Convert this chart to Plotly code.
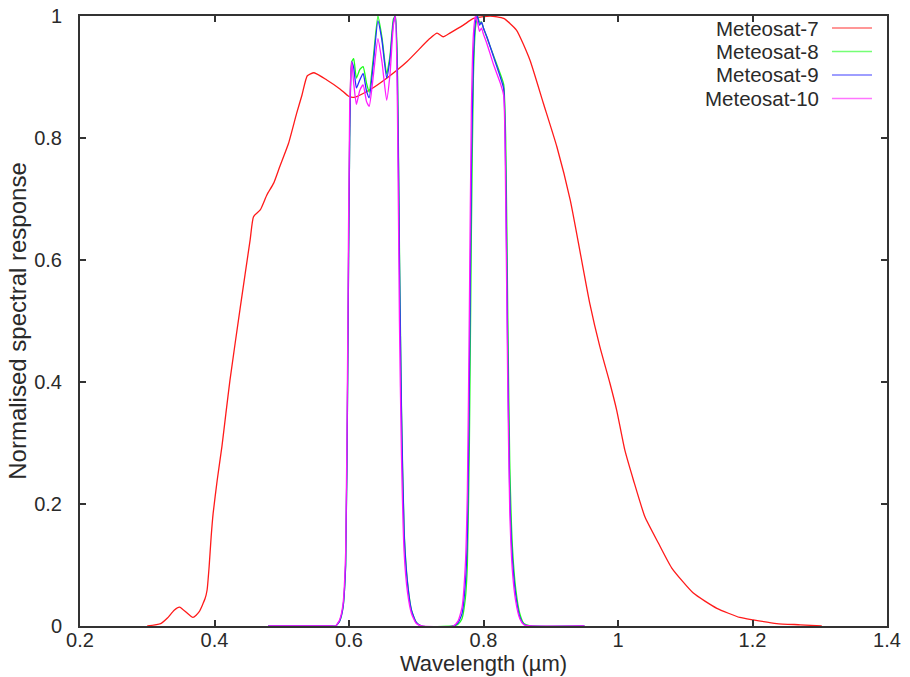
import plotly.graph_objects as go

# ---- data ----
series_names = ["Meteosat-7", "Meteosat-8", "Meteosat-9", "Meteosat-10"]
series_colors = ["#ff1a1a", "#1aff1a", "#2a2aff", "#ff1aff"]

wl_mvri = [0.300, 0.320, 0.330, 0.340, 0.348, 0.368, 0.377, 0.386, 0.389, 0.392,
           0.395, 0.398, 0.404, 0.411, 0.417, 0.423, 0.438, 0.453, 0.458, 0.468,
           0.478, 0.488, 0.497, 0.510, 0.522, 0.530, 0.538, 0.548, 0.567, 0.587,
           0.600, 0.609, 0.631, 0.656, 0.686, 0.720, 0.731, 0.740, 0.750, 0.770,
           0.785, 0.810, 0.830, 0.849, 0.869, 0.889, 0.909, 0.929, 0.944, 0.958,
           0.973, 0.988, 0.998, 1.010, 1.023, 1.040, 1.060, 1.080, 1.112, 1.147,
           1.181, 1.201, 1.236, 1.271, 1.303]
resp_met7 = [0.000, 0.004, 0.013, 0.026, 0.031, 0.014, 0.023, 0.045, 0.059, 0.097,
             0.146, 0.185, 0.239, 0.294, 0.349, 0.403, 0.520, 0.633, 0.671, 0.682,
             0.707, 0.726, 0.753, 0.791, 0.840, 0.870, 0.902, 0.907, 0.895, 0.880,
             0.868, 0.867, 0.879, 0.898, 0.925, 0.963, 0.972, 0.966, 0.972, 0.985,
             0.996, 1.000, 0.996, 0.977, 0.928, 0.857, 0.786, 0.698, 0.611, 0.529,
             0.458, 0.398, 0.354, 0.289, 0.239, 0.179, 0.136, 0.095, 0.054, 0.029,
             0.014, 0.010, 0.004, 0.002, 0.000]

wl_seviri = [0.480, 0.575, 0.580, 0.586, 0.591, 0.595, 0.598, 0.601, 0.604, 0.607,
             0.611, 0.616, 0.621, 0.626, 0.630, 0.636, 0.643, 0.649, 0.656, 0.661,
             0.666, 0.669, 0.672, 0.675, 0.678, 0.682, 0.687, 0.693, 0.700, 0.708,
             0.755, 0.762, 0.768, 0.773, 0.776, 0.779, 0.782, 0.785, 0.788, 0.791,
             0.794, 0.797, 0.800, 0.805, 0.815, 0.825, 0.830, 0.833, 0.836, 0.839,
             0.843, 0.848, 0.854, 0.860, 0.870, 0.950]
resp_met8 = [0.000, 0.000, 0.000, 0.008, 0.030, 0.100, 0.400, 0.800, 0.925, 0.930,
             0.898, 0.912, 0.917, 0.890, 0.875, 0.930, 1.000, 0.965, 0.905, 0.935,
             0.995, 1.000, 0.920, 0.620, 0.360, 0.155, 0.072, 0.026, 0.006, 0.000,
             0.000, 0.003, 0.012, 0.045, 0.100, 0.300, 0.650, 0.900, 0.980, 1.000,
             0.990, 0.990, 0.980, 0.965, 0.935, 0.905, 0.888, 0.800, 0.520, 0.270,
             0.130, 0.060, 0.020, 0.004, 0.000, 0.000]
resp_met9 = [0.000, 0.000, 0.000, 0.008, 0.030, 0.100, 0.400, 0.800, 0.925, 0.915,
             0.882, 0.895, 0.906, 0.877, 0.866, 0.920, 0.992, 0.960, 0.898, 0.930,
             0.990, 1.000, 0.900, 0.600, 0.350, 0.150, 0.070, 0.025, 0.006, 0.000,
             0.000, 0.005, 0.020, 0.070, 0.150, 0.400, 0.750, 0.930, 0.990, 1.000,
             0.985, 0.990, 0.980, 0.966, 0.933, 0.900, 0.881, 0.750, 0.450, 0.220,
             0.110, 0.050, 0.015, 0.003, 0.000, 0.000]
resp_met10 = [0.000, 0.000, 0.000, 0.010, 0.035, 0.120, 0.450, 0.850, 0.925, 0.890,
              0.855, 0.878, 0.887, 0.860, 0.852, 0.900, 0.963, 0.925, 0.862, 0.905,
              0.985, 1.000, 0.850, 0.500, 0.280, 0.120, 0.055, 0.020, 0.004, 0.000,
              0.000, 0.008, 0.030, 0.100, 0.220, 0.520, 0.850, 0.970, 1.000, 0.990,
              0.975, 0.980, 0.970, 0.955, 0.920, 0.890, 0.870, 0.700, 0.400, 0.190,
              0.090, 0.040, 0.012, 0.002, 0.000, 0.000]

x_tick_vals = [0.2, 0.4, 0.6, 0.8, 1.0, 1.2, 1.4]
x_tick_text = ["0.2", "0.4", "0.6", "0.8", "1", "1.2", "1.4"]
y_tick_vals = [0, 0.2, 0.4, 0.6, 0.8, 1.0]
y_tick_text = ["0", "0.2", "0.4", "0.6", "0.8", "1"]

x_title = "Wavelength (µm)"
y_title = "Normalised spectral response"

# ---- figure ----
FONT = "Liberation Sans, Arial, sans-serif"
AXIS_COLOR = "#333333"
TEXT_COLOR = "#2a2a2a"
FS_TICK = 20
FS_LABEL = 22
FS_YLABEL = 24
FS_LEGEND = 20.5

fig = go.Figure()
series = [(wl_mvri, resp_met7), (wl_seviri, resp_met8),
          (wl_seviri, resp_met9), (wl_seviri, resp_met10)]
for (xs, ys), name, col in zip(series, series_names, series_colors):
    fig.add_trace(go.Scatter(x=xs, y=ys, mode="lines", name=name,
                             line=dict(color=col, width=1.3, shape="spline",
                                       smoothing=0.5),
                             showlegend=False))

# custom gnuplot-style legend: right-aligned text, line sample on the right
leg_text_x = 0.917
leg_line_x0, leg_line_x1 = 0.9318, 0.9814
leg_y0, leg_dy = 0.9803, 0.0385
for i, (name, col) in enumerate(zip(series_names, series_colors)):
    yy = leg_y0 - i * leg_dy
    fig.add_annotation(x=leg_text_x, y=yy, xref="paper", yref="paper",
                       text=name, showarrow=False, xanchor="right",
                       yanchor="middle", borderpad=0,
                       font=dict(family=FONT, size=FS_LEGEND, color=TEXT_COLOR))
    fig.add_shape(type="line", xref="paper", yref="paper",
                  x0=leg_line_x0, x1=leg_line_x1, y0=yy, y1=yy,
                  line=dict(color=col, width=1.5), opacity=0.6)

axis_common = dict(showline=True, linecolor=AXIS_COLOR, linewidth=2,
                   mirror="ticks", ticks="inside", ticklen=6, tickwidth=1.5,
                   tickcolor=AXIS_COLOR, showgrid=False, zeroline=False,
                   automargin=False, ticklabeloverflow="allow",
                   tickfont=dict(family=FONT, size=FS_TICK, color=TEXT_COLOR))

fig.update_layout(
    width=910, height=677,
    margin=dict(l=80, r=23, t=16, b=51),
    paper_bgcolor="white", plot_bgcolor="white",
    font=dict(family=FONT, size=FS_TICK, color=TEXT_COLOR),
    xaxis=dict(range=[0.2, 1.4], tickvals=x_tick_vals, ticktext=x_tick_text,
               ticklabelstandoff=-5,
               title=dict(text=x_title, standoff=0,
                          font=dict(family=FONT, size=FS_LABEL, color=TEXT_COLOR)),
               **axis_common),
    yaxis=dict(range=[0, 1], tickvals=y_tick_vals, ticktext=y_tick_text,
               ticklabelstandoff=12,
               title=dict(text=y_title, standoff=1,
                          font=dict(family=FONT, size=FS_YLABEL, color=TEXT_COLOR)),
               **axis_common),
)

# remove the default 8px page margin so the figure fills the window exactly
fig.write_html("out.html",
               config={"displayModeBar": False},
               post_script="document.body.style.margin='0';"
                           "document.body.style.overflow='hidden';")
